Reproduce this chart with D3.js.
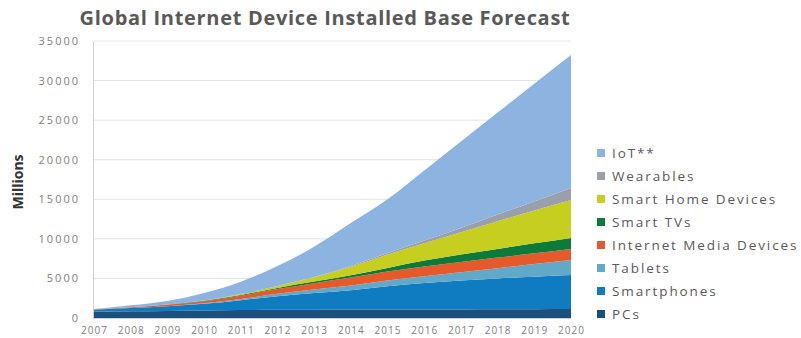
<!DOCTYPE html>
<html>
<head>
<meta charset="utf-8">
<style>
body { margin: 0; background: #fff; }
text { font-family: "Open Sans", sans-serif; }
</style>
</head>
<body>
<svg width="801" height="338"></svg>
<script src="https://d3js.org/d3.v7.min.js"></script>
<script>
// values in millions
var years = [2007, 2008, 2009, 2010, 2011, 2012, 2013, 2014, 2015, 2016, 2017, 2018, 2019, 2020];
var pcs         = [800, 850, 900, 950, 1000, 1050, 1050, 1060, 1060, 1070, 1080, 1100, 1120, 1150];
var smartphones = [250, 400, 600, 850, 1250, 1700, 2100, 2450, 2950, 3350, 3650, 3900, 4100, 4280];
var tablets     = [0, 0, 0, 50, 150, 300, 450, 600, 720, 840, 1050, 1300, 1600, 1900];
var mediaDevices= [50, 100, 180, 280, 420, 600, 800, 1000, 1150, 1250, 1300, 1330, 1360, 1390];
var smartTVs    = [0, 10, 30, 60, 100, 150, 200, 280, 450, 750, 950, 1100, 1250, 1390];
var smartHome   = [0, 0, 0, 30, 100, 250, 550, 1100, 1700, 2200, 2800, 3500, 4150, 4800];
var wearables   = [0, 0, 0, 0, 0, 0, 20, 80, 180, 320, 550, 850, 1150, 1520];
var iot         = [50, 250, 450, 940, 1570, 2520, 3830, 5430, 6790, 8870, 10920, 12870, 14870, 16800];
var yTicks = [0, 5000, 10000, 15000, 20000, 25000, 30000, 35000];

var series = [
  { key: "PCs", values: pcs, color: "#1d4f7c" },
  { key: "Smartphones", values: smartphones, color: "#0f7bc0" },
  { key: "Tablets", values: tablets, color: "#62a8c9" },
  { key: "Internet Media Devices", values: mediaDevices, color: "#e6592b" },
  { key: "Smart TVs", values: smartTVs, color: "#0d7a3c" },
  { key: "Smart Home Devices", values: smartHome, color: "#c6cf1f" },
  { key: "Wearables", values: wearables, color: "#9a9fab" },
  { key: "IoT**", values: iot, color: "#8db3e0" }
];

var rows = years.map(function (y, i) {
  var r = { year: y };
  series.forEach(function (s) { r[s.key] = s.values[i]; });
  return r;
});

var svg = d3.select("svg");
var x = d3.scaleLinear().domain([2007, 2020]).range([94, 571]);
var y = d3.scaleLinear().domain([0, 35000]).range([318, 41]);

svg.append("text")
  .attr("x", 325).attr("y", 25)
  .attr("text-anchor", "middle")
  .attr("font-size", 20).attr("font-weight", "bold")
  .attr("letter-spacing", 0.7)
  .attr("fill", "#595959")
  .text("Global Internet Device Installed Base Forecast");

// gridlines
svg.append("g")
  .selectAll("line")
  .data(yTicks.slice(1))
  .enter().append("line")
    .attr("x1", 94).attr("x2", 571)
    .attr("y1", function (d) { return y(d); })
    .attr("y2", function (d) { return y(d); })
    .attr("stroke", "#e3e3e3");

var stack = d3.stack().keys(series.map(function (s) { return s.key; }));
var layers = stack(rows);

var area = d3.area()
  .x(function (d) { return x(d.data.year); })
  .y0(function (d) { return y(d[0]); })
  .y1(function (d) { return y(d[1]); })
  .curve(d3.curveMonotoneX);

svg.append("g")
  .selectAll("path")
  .data(layers)
  .enter().append("path")
    .attr("d", area)
    .attr("fill", function (d, i) { return series[i].color; });

// y axis
var yAxis = svg.append("g")
  .attr("transform", "translate(93,0)")
  .call(d3.axisLeft(y).tickValues(yTicks).tickFormat(d3.format("d")).tickSize(0).tickPadding(13));
yAxis.select(".domain").attr("stroke", "#d0d0d0");
yAxis.selectAll("text").attr("font-family", "Open Sans, sans-serif")
  .attr("font-size", 11).attr("letter-spacing", 2).attr("fill", "#808080");

svg.append("line")
  .attr("x1", 93).attr("x2", 571).attr("y1", 318.5).attr("y2", 318.5)
  .attr("stroke", "#d0d0d0");

// x axis
var xAxis = svg.append("g")
  .attr("transform", "translate(0,319)")
  .call(d3.axisBottom(x).tickValues(years).tickFormat(d3.format("d")).tickSize(0).tickPadding(8));
xAxis.select(".domain").remove();
xAxis.selectAll("text").attr("font-family", "Open Sans, sans-serif")
  .attr("font-size", 10).attr("letter-spacing", 1).attr("fill", "#808080");

svg.append("text")
  .attr("transform", "translate(23,182) rotate(-90)")
  .attr("text-anchor", "middle")
  .attr("font-family", "Liberation Sans Narrow, Arial, sans-serif")
  .attr("font-size", 14).attr("font-weight", "bold")
  .attr("fill", "#333")
  .text("Millions");

// legend, top to bottom IoT -> PCs
var legend = svg.append("g")
  .selectAll("g")
  .data(series.slice().reverse())
  .enter().append("g")
    .attr("transform", function (d, i) { return "translate(597," + (153 + i * 23) + ")"; });
legend.append("rect")
  .attr("x", 0).attr("y", -4).attr("width", 8).attr("height", 8)
  .attr("fill", function (d) { return d.color; });
legend.append("text")
  .attr("x", 15).attr("y", 5)
  .attr("font-size", 13.5).attr("letter-spacing", 1.9).attr("fill", "#595959")
  .text(function (d) { return d.key; });
</script>
</body>
</html>
